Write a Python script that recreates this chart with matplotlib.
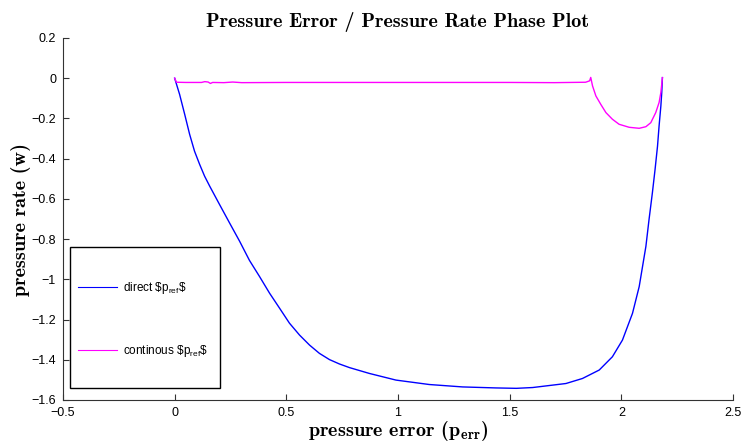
import matplotlib
matplotlib.use("Agg")
import matplotlib.pyplot as plt
from matplotlib.patches import Rectangle

plt.rcParams['mathtext.fontset'] = 'cm'
plt.rcParams['font.family'] = ['Liberation Sans', 'DejaVu Sans']

# Phase trajectory with a direct reference step
direct_err = [0.000, 0.022, 0.045, 0.067, 0.089, 0.112, 0.134, 0.157, 0.201, 0.246,
              0.291, 0.335, 0.380, 0.425, 0.470, 0.514, 0.559, 0.604, 0.648, 0.693,
              0.738, 0.783, 0.872, 0.991, 1.140, 1.289, 1.439, 1.530, 1.603, 1.752,
              1.826, 1.901, 1.960, 2.005, 2.050, 2.080, 2.095, 2.110, 2.124, 2.139,
              2.151, 2.162, 2.169, 2.177, 2.181, 2.184]
direct_rate = [0.000, -0.080, -0.180, -0.279, -0.363, -0.429, -0.487, -0.537, -0.628, -0.720,
               -0.811, -0.906, -0.986, -1.069, -1.144, -1.218, -1.277, -1.327, -1.368, -1.399,
               -1.421, -1.439, -1.468, -1.501, -1.523, -1.535, -1.540, -1.542, -1.538, -1.518,
               -1.493, -1.451, -1.385, -1.302, -1.169, -1.036, -0.936, -0.836, -0.703, -0.570,
               -0.454, -0.338, -0.238, -0.138, -0.071, 0.003]

# Phase trajectory with a continuous reference
cont_err = [0.000, 0.008, 0.050, 0.120, 0.135, 0.150, 0.160, 0.170, 0.220, 0.260,
            0.300, 0.500, 1.000, 1.500, 1.700, 1.840, 1.858, 1.863, 1.871, 1.886,
            1.908, 1.931, 1.960, 1.990, 2.035, 2.080, 2.110, 2.132, 2.154, 2.169,
            2.177, 2.184]
cont_rate = [0.000, -0.020, -0.021, -0.021, -0.017, -0.019, -0.026, -0.021, -0.022, -0.019,
             -0.022, -0.021, -0.021, -0.021, -0.022, -0.020, -0.013, 0.004, -0.038, -0.088,
             -0.130, -0.171, -0.204, -0.229, -0.244, -0.249, -0.241, -0.221, -0.171, -0.121,
             -0.071, 0.003]

xticks = [-0.5, 0, 0.5, 1, 1.5, 2, 2.5]
xticklabels = ['\u22120.5', '0', '0.5', '1', '1.5', '2', '2.5']
yticks = [-1.6, -1.4, -1.2, -1, -0.8, -0.6, -0.4, -0.2, 0, 0.2]
yticklabels = ['\u22121.6', '\u22121.4', '\u22121.2', '\u22121', '\u22120.8', '\u22120.6',
               '\u22120.4', '\u22120.2', '0', '0.2']

fig = plt.figure(figsize=(7.43, 4.43), dpi=100)
ax = fig.add_axes([63/743, 1 - 400/443, 670/743, 362/443])

ax.plot(direct_err, direct_rate, color='#0000ff', lw=1.0, label=r'direct \$$\mathregular{p_{ref}}$\$')
ax.plot(cont_err, cont_rate, color='#ff00ff', lw=1.0, label=r'continous \$$\mathregular{p_{ref}}$\$')

ax.set_xlim(-0.5, 2.5)
ax.set_ylim(-1.6, 0.2)
ax.set_xticks(xticks)
ax.set_xticklabels(xticklabels)
ax.set_yticks(yticks)
ax.set_yticklabels(yticklabels)
ax.tick_params(direction='in', length=4, width=0.8, labelsize=9, pad=5, color='#333333')

for side in ('top', 'right'):
    ax.spines[side].set_visible(False)
for side in ('left', 'bottom'):
    ax.spines[side].set_linewidth(0.8)
    ax.spines[side].set_color('#333333')

ax.set_title('Pressure Error / Pressure Rate Phase Plot', family='cmb10', fontsize=14.5, pad=8)
ax.set_xlabel(r'pressure error ($\mathbf{p}_{\mathbf{err}}$)', family='cmb10', fontsize=14.5, labelpad=0)
ax.set_ylabel('pressure rate (w)', family='cmb10', fontsize=14.5, labelpad=0.5)

# legend box
ax.add_patch(Rectangle((7/670, 12/362), 150/670, 141/362, transform=ax.transAxes,
                       facecolor='white', edgecolor='black', lw=1.0, zorder=5))
leg = ax.legend(loc='upper left', bbox_to_anchor=(15/670, 120/362), frameon=False,
                fontsize=8.5, handlelength=3.3, handletextpad=0.5, labelspacing=3.95,
                borderpad=0, borderaxespad=0)
leg.set_zorder(6)
for line in leg.get_lines():
    line.set_linewidth(0.8)

fig.savefig('out.png', dpi=100)
